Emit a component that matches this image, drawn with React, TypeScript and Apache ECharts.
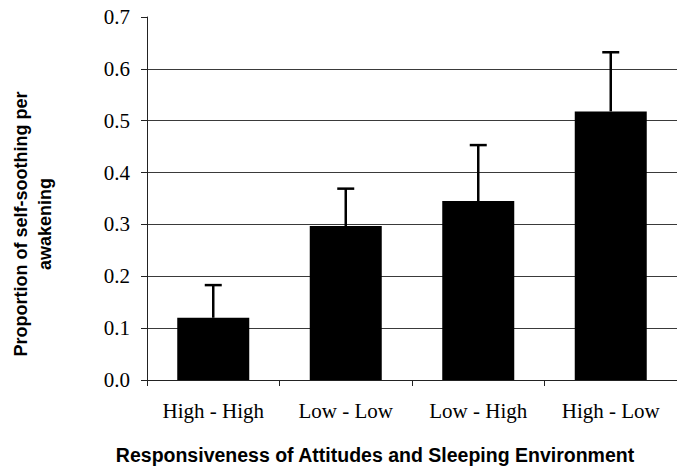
import React, { useEffect, useRef } from "react";
import * as echarts from "echarts";

const categories = ["High - High", "Low - Low", "Low - High", "High - Low"];
const means = [0.12, 0.297, 0.345, 0.518];
const upperErrors = [0.183, 0.369, 0.453, 0.632];
const yTicks = [0, 0.1, 0.2, 0.3, 0.4, 0.5, 0.6, 0.7];
const xTitle = "Responsiveness of Attitudes and Sleeping Environment";
const yTitleLine1 = "Proportion of self-soothing per";
const yTitleLine2 = "awakening";

export default function App() {
  const ref = useRef<HTMLDivElement>(null);
  useEffect(() => {
    if (!ref.current) return;
    const chart = echarts.init(ref.current, null, { renderer: "svg" });
    const gridColors = yTicks.map((t, i) => (i === yTicks.length - 1 || i === 0 ? "rgba(0,0,0,0)" : "#3a3a3a"));
    chart.setOption({
      animation: false,
      backgroundColor: "#ffffff",
      grid: { left: 147, top: 17, width: 533, bottom: 93, containLabel: false },
      xAxis: {
        type: "category",
        data: categories,
        axisLine: { show: true, lineStyle: { color: "#222", width: 1 } },
        axisTick: { show: true, inside: false, length: 6, alignWithLabel: false, lineStyle: { color: "#222" } },
        axisLabel: { margin: 20, fontFamily: "Liberation Serif", fontSize: 21, color: "#000" },
        splitLine: { show: false },
      },
      yAxis: {
        type: "value",
        min: 0,
        max: 0.7,
        interval: 0.1,
        axisLine: { show: true, lineStyle: { color: "#222", width: 1 } },
        axisTick: { show: true, inside: false, length: 6, lineStyle: { color: "#222" } },
        axisLabel: {
          margin: 17,
          fontFamily: "Liberation Serif",
          fontSize: 21,
          color: "#000",
          formatter: (v: number) => v.toFixed(1),
        },
        splitLine: { show: true, lineStyle: { color: gridColors, width: 1 } },
      },
      series: [
        {
          type: "bar",
          data: means,
          barWidth: 72,
          itemStyle: { color: "#000" },
          z: 2,
        },
        {
          type: "custom",
          data: means.map((m, i) => [i, m, upperErrors[i]]),
          encode: { x: 0, y: [1, 2] },
          z: 3,
          renderItem: (params: any, api: any) => {
            const i = api.value(0);
            const p0 = api.coord([i, api.value(1)]);
            const p1 = api.coord([i, api.value(2)]);
            const style = { stroke: "#000", lineWidth: 2.5 };
            return {
              type: "group",
              children: [
                { type: "line", shape: { x1: p0[0], y1: p0[1], x2: p1[0], y2: p1[1] }, style },
                { type: "line", shape: { x1: p1[0] - 8.5, y1: p1[1], x2: p1[0] + 8.5, y2: p1[1] }, style },
              ],
            };
          },
        },
      ],
      graphic: [
        {
          type: "text",
          x: 375,
          y: 455,
          style: {
            text: xTitle,
            fontFamily: "Liberation Sans",
            fontWeight: "bold",
            fontSize: 19.5,
            fill: "#000",
            textAlign: "center",
            textVerticalAlign: "middle",
          },
        },
        {
          type: "text",
          x: 21,
          y: 224,
          rotation: Math.PI / 2,
          style: {
            text: yTitleLine1,
            fontFamily: "Liberation Sans",
            fontWeight: "bold",
            fontSize: 18,
            fill: "#000",
            textAlign: "center",
            textVerticalAlign: "middle",
          },
        },
        {
          type: "text",
          x: 45,
          y: 224,
          rotation: Math.PI / 2,
          style: {
            text: yTitleLine2,
            fontFamily: "Liberation Sans",
            fontWeight: "bold",
            fontSize: 18,
            fill: "#000",
            textAlign: "center",
            textVerticalAlign: "middle",
          },
        },
      ],
    });
    return () => chart.dispose();
  }, []);
  return <div ref={ref} style={{ position: "absolute", left: 0, top: 0, width: 677, height: 473 }} />;
}
